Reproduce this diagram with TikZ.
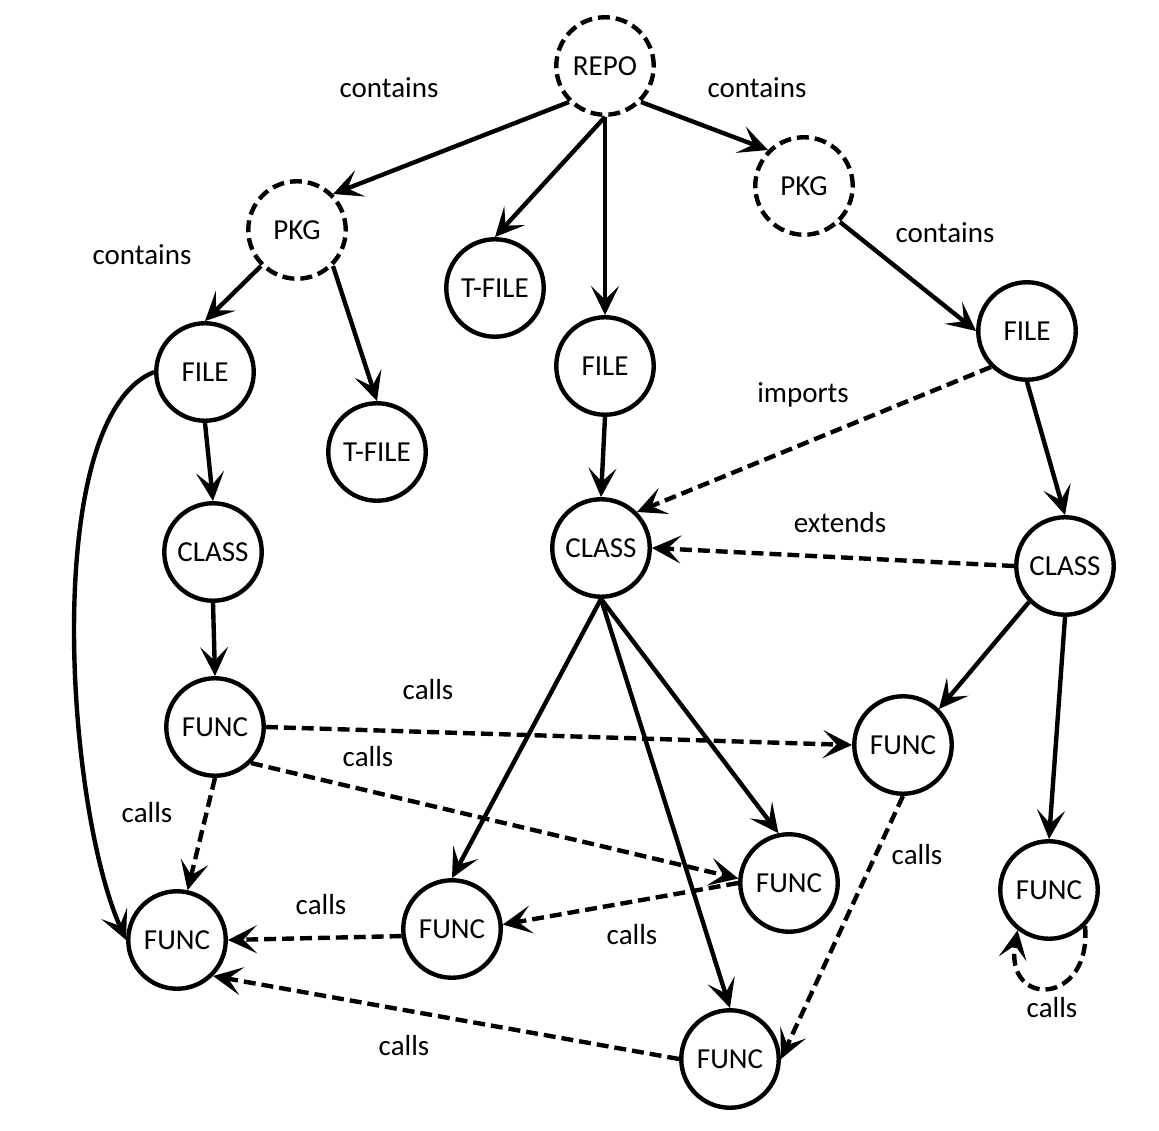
\documentclass[tikz,border=0pt]{standalone}
\usepackage{fontspec}
\setmainfont{Carlito}
\usetikzlibrary{arrows.meta}

\begin{document}
\begin{tikzpicture}[x=0.02cm,y=0.02cm,font=\fontsize{16.5pt}{19pt}\selectfont,>={Stealth[length=0.58cm,width=0.56cm,inset=0.27cm]},line width=2.5pt,
  elem/.style={draw,circle,minimum size=1.95cm,inner sep=0pt},
  grp/.style={elem,dash pattern=on 6.8pt off 3.4pt},
  call/.style={->,dash pattern=on 6.8pt off 3.4pt}]
\useasboundingbox (0,0) rectangle (1159,1130);
\node[grp] (repo) at (605,1064) {REPO};
\node[grp] (pkgl) at (297,900) {PKG};
\node[grp] (pkgr) at (804,944) {PKG};
\node[elem] (tfile) at (495,842) {T-FILE};
\node[elem] (file) at (605,764) {FILE};
\node[elem] (filel) at (205,758) {FILE};
\node[elem] (tfilel) at (377,678) {T-FILE};
\node[elem] (filer) at (1027,799) {FILE};
\node[elem] (classl) at (213,578) {CLASS};
\node[elem] (class) at (601,582) {CLASS};
\node[elem] (classr) at (1065,564) {CLASS};
\node[elem] (funcl) at (215,403) {FUNC};
\node[elem] (funcrm) at (903,385) {FUNC};
\node[elem] (funccr) at (789,247) {FUNC};
\node[elem] (funcfr) at (1049,240) {FUNC};
\node[elem] (funcfl) at (177,190) {FUNC};
\node[elem] (funccl) at (452,201) {FUNC};
\node[elem] (funcb) at (730,71) {FUNC};
% containment
\draw[->] (repo.south west) -- (pkgl.north east) node (c1) at (389,1042) {contains};
\draw[->] (repo.south) -- (tfile.north);
\draw[->] (repo.south) -- (file.north);
\draw[->] (repo.south east) -- (pkgr.north west) node (c2) at (757,1042) {contains};
\draw[->] (pkgl.south west) -- (filel.north) node (c3) at (142,875) {contains};
\draw[->] (pkgl.south east) -- (tfilel.north);
\draw[->] (pkgr.south east) -- (filer.west) node (c4) at (945,897) {contains};
\draw[->] (filel.south) -- (classl.north);
\draw[->] (filel.west) .. controls +(202:122) and +(114:150) .. (funcfl.west);
\draw[->] (classl.south) -- (funcl.north);
\draw[->] (file.south) -- (class.north);
\draw[->] (filer.south) -- (classr.north);
\draw[->] (class.south) -- (funccl.north);
\draw[->] (class.south) -- (funcb.north);
\draw[->] (class.south) -- (funccr.102);
\draw[->] (classr.south west) -- (funcrm.north east);
\draw[->] (classr.south) -- (funcfr.north);
% imports, extends
\draw[call] (filer.south west) -- (class.north east) node (i1) at (803,735) {imports};
\draw[call] (classr.west) -- (class.east) node (e1) at (840,607) {extends};
% calls
\draw[call] (funcl.south) -- (funcfl.78) node (k1) at (147,317) {calls};
\draw[call] (funcl.east) -- (funcrm.west) node (k2) at (428,440) {calls};
\draw[call] (funcl.south east) -- (funccr.175) node (k3) at (368,373) {calls};
\draw[call] (funcrm.south) -- (funcb.east) node (k4) at (917,275) {calls};
\draw[call] (funccr.west) -- (funccl.5) node (k5) at (632,195) {calls};
\draw[call] (funccl.188) -- (funcfl.east) node (k6) at (321,225) {calls};
\draw[call] (funcb.west) -- (funcfl.south east) node (k7) at (404,84) {calls};
\draw[call] (funcfr.-45) .. controls +(-85:80) and +(-100:80) .. (funcfr.-128) node (k8) at (1052,122) {calls};
\end{tikzpicture}
\end{document}
